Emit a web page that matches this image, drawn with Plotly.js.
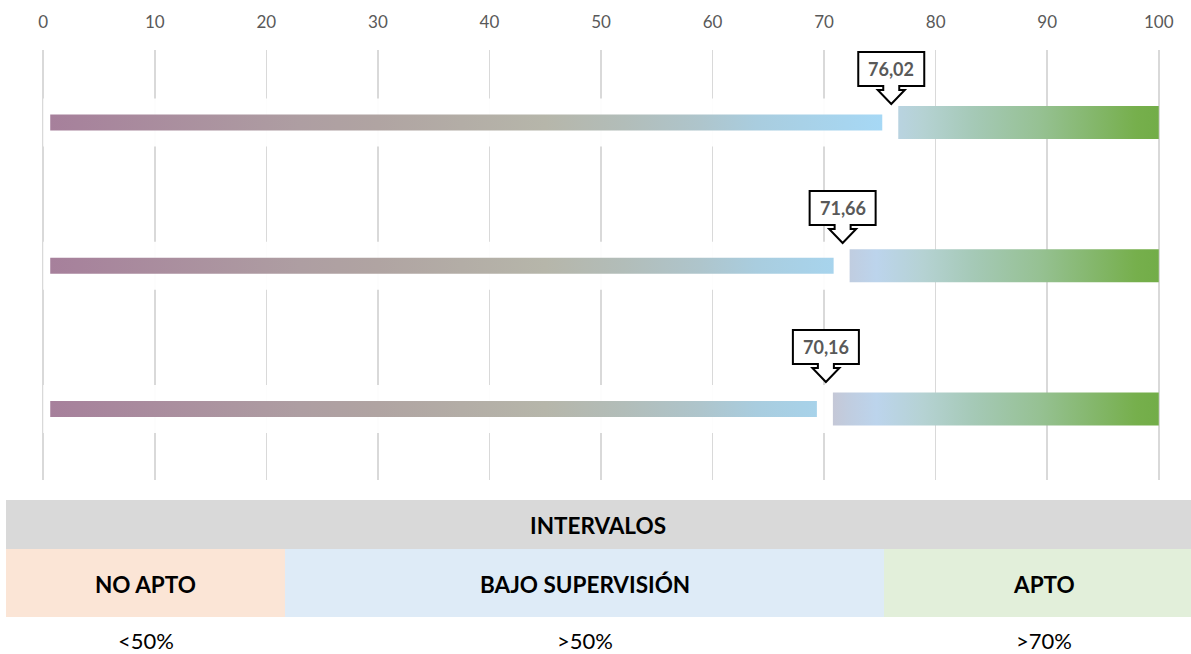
<!DOCTYPE html>
<html>
<head>
<meta charset="utf-8">
<script src="https://cdn.plot.ly/plotly-3.0.1.min.js"></script>
<style>html,body{margin:0;padding:0;background:#fff;}#chart{width:1191px;height:654px;}</style>
</head>
<body>
<div id="chart"></div>
<script>
// ---- data ----
const rowNames = ['Fila 1', 'Fila 2', 'Fila 3'];
const scores = [76.02, 71.66, 70.16];
const xTicks = [0, 10, 20, 30, 40, 50, 60, 70, 80, 90, 100];
const scaleMax = 100;
const tableTitle = 'INTERVALOS';
const intervalNames = ['NO APTO', 'BAJO SUPERVISIÓN', 'APTO'];
const intervalRules = ['<50%', '>50%', '>70%'];

// ---- layout geometry (pixels) ----
const W = 1191, H = 654;
const M = {l: 41, r: 30, t: 50, b: 174};
const xRange = [-0.2, 100.2];
const plotW = W - M.l - M.r, plotH = H - M.t - M.b;
const pxPerUnit = plotW / (xRange[1] - xRange[0]);
const rowPitch = 143.25;               // px per category
const yRange = [2.496, -0.506];
const y2Range = [2.705, -0.388];
const u = px => px / rowPitch;          // px -> category units
const xu = px => px / pxPerUnit;        // px -> x units

const font = 'Lato, "Open Sans", sans-serif';

function rect(x0, x1, y0, y1) {
  return {x: [x0, x1, x1, x0, x0], y: [y0, y0, y1, y1, y0]};
}

const seg1Scale = [
  [0, '#a67f9b'], [23/76, '#ae9ea2'], [30/76, '#b0a4a2'], [45/76, '#b6b6aa'],
  [52/76, '#b2bdb9'], [59/76, '#aec5cc'], [64/76, '#a9cddf'], [1, '#a6d9f7']
];
const seg2Scale = [
  [0, '#c7c5d2'], [2.3/30, '#c0cde0'], [4.7/30, '#bcd4ec'], [8.9/30, '#b5d2d3'],
  [13.3/30, '#a5c9b7'], [19.3/30, '#96c193'], [28/30, '#76af4c'], [1, '#72ad48']
];

const traces = [];
scores.forEach((v, i) => {
  // white band hiding the gridlines around the score segment
  const b = rect(0, v, i - u(24), i + u(24));
  traces.push({type: 'scatter', x: b.x, y: b.y, fill: 'toself', mode: 'none',
    fillcolor: 'rgba(255,255,255,0.95)', hoverinfo: 'skip', showlegend: false});
});
scores.forEach((v, i) => {
  const a = rect(xu(7), v - xu(9), i - u(8), i + u(8));
  traces.push({type: 'scatter', x: a.x, y: a.y, fill: 'toself', mode: 'none', name: rowNames[i],
    fillgradient: {type: 'horizontal', colorscale: seg1Scale, start: 0, stop: 76},
    hoverinfo: 'skip', showlegend: false});
  const c = rect(v + xu(7), scaleMax, i - u(16.5), i + u(16.5));
  traces.push({type: 'scatter', x: c.x, y: c.y, fill: 'toself', mode: 'none',
    fillgradient: {type: 'horizontal', colorscale: seg2Scale, start: 70, stop: 100},
    hoverinfo: 'skip', showlegend: false});
});
// invisible anchor points for the callouts
traces.push({type: 'scatter', x: scores, y: scores.map((_, i) => i), yaxis: 'y2',
  mode: 'markers', marker: {opacity: 0}, hoverinfo: 'skip', showlegend: false});

const calloutPath = 'M -33 52 L 33 52 L 33 18 L 8 18 L 8 14 L 13.5 14 L 0 0 L -13.5 14 L -8 14 L -8 18 L -33 18 Z';

const shapes = [];
const annotations = [];
scores.forEach((v, i) => {
  shapes.push({type: 'path', xref: 'x', yref: 'y2', xsizemode: 'pixel', ysizemode: 'pixel',
    xanchor: v, yanchor: i, path: calloutPath,
    fillcolor: '#ffffff', line: {color: '#000000', width: 2}, layer: 'above'});
  annotations.push({xref: 'x', yref: 'y2', x: v, y: i, yshift: 35, showarrow: false,
    xanchor: 'center', yanchor: 'middle',
    text: '<b>' + v.toFixed(2).replace('.', ',') + '</b>',
    font: {family: font, size: 18, color: '#595959'}});
});

// table below the chart (paper coordinates from pixels)
const px2x = px => (px - M.l) / plotW;
const py2y = py => (H - M.b - py) / plotH;
const cellEdges = [6, 285, 884, 1191];
const cellColors = ['#fbe5d6', '#deebf7', '#e2efda'];
shapes.push({type: 'rect', xref: 'paper', yref: 'paper', x0: px2x(6), x1: px2x(1191),
  y0: py2y(549), y1: py2y(500), fillcolor: '#d9d9d9', line: {width: 0}});
annotations.push({xref: 'paper', yref: 'paper', x: px2x(598), y: py2y(525), showarrow: false,
  xanchor: 'center', yanchor: 'middle',
  text: '<b>' + tableTitle + '</b>', font: {family: font, size: 22.5, color: '#000000'}});
intervalNames.forEach((name, k) => {
  const x0 = cellEdges[k], x1 = cellEdges[k + 1];
  const cx = k === 2 ? 1044 : (x0 + x1) / 2;
  shapes.push({type: 'rect', xref: 'paper', yref: 'paper', x0: px2x(x0), x1: px2x(x1),
    y0: py2y(617), y1: py2y(549), fillcolor: cellColors[k], line: {width: 0}});
  annotations.push({xref: 'paper', yref: 'paper', x: px2x(cx), y: py2y(584), showarrow: false,
    xanchor: 'center', yanchor: 'middle',
    text: '<b>' + name + '</b>', font: {family: font, size: 22.5, color: '#000000'}});
  annotations.push({xref: 'paper', yref: 'paper', x: px2x(cx), y: py2y(640), showarrow: false,
    xanchor: 'center', yanchor: 'middle',
    text: intervalRules[k], font: {family: font, size: 22, color: '#000000'}});
});

const layout = {
  width: W, height: H,
  margin: M,
  paper_bgcolor: '#ffffff', plot_bgcolor: '#ffffff',
  showlegend: false,
  xaxis: {range: xRange, side: 'top', tickvals: xTicks, ticktext: xTicks.map(String),
    showgrid: true, gridcolor: '#d9d9d9', gridwidth: 1.5, zeroline: false, showline: false,
    ticks: '', ticklabelstandoff: 18, fixedrange: true,
    tickfont: {family: font, size: 17, color: '#595959'}},
  yaxis: {range: yRange, showgrid: false, zeroline: false, showticklabels: false, showline: false,
    fixedrange: true},
  yaxis2: {range: y2Range, overlaying: 'y', anchor: 'x', visible: false, showgrid: false,
    zeroline: false, fixedrange: true},
  shapes: shapes,
  annotations: annotations
};

Plotly.newPlot('chart', traces, layout, {displayModeBar: false, staticPlot: true});
</script>
</body>
</html>
